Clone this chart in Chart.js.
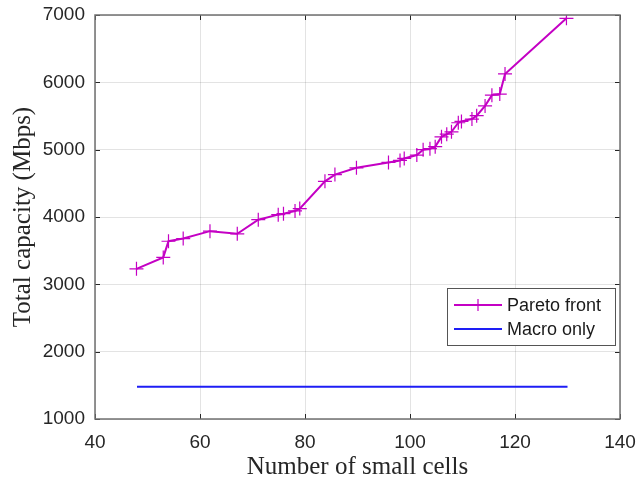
<!DOCTYPE html>
<html>
<head>
<meta charset="utf-8">
<script src="https://cdn.jsdelivr.net/npm/chart.js@4"></script>
<style>
  html, body { margin: 0; padding: 0; background: #fff; }
  #wrap { width: 638px; height: 484px; }
</style>
</head>
<body>
<div id="wrap"><canvas id="main-chart" width="638" height="484"></canvas></div>
<script>
// values
let smallCells = [47.9, 53, 54, 56.8, 61.9, 67.1, 71.1, 74.9, 75.9, 78.1, 79, 83.8, 85.7, 89.8, 95.9, 98.1, 98.9, 101.3, 102.5, 103.8, 104.8, 106, 107, 107.9, 109.2, 109.8, 111.8, 112.7, 114.3, 115.6, 117.1, 118.1, 129.8]
let paretoCap = [3230, 3400, 3640, 3680, 3790, 3750, 3960, 4035, 4050, 4090, 4125, 4530, 4630, 4730, 4810, 4840, 4870, 4920, 5000, 5015, 5045, 5190, 5230, 5265, 5400, 5420, 5455, 5505, 5650, 5810, 5825, 6125, 6950]
let macroX = [48, 130]
let macroCap = [1480, 1480]
let xTicks = [40, 60, 80, 100, 120, 140]
let yTicks = [1000, 2000, 3000, 4000, 5000, 6000, 7000]

let pareto = smallCells.map((x, i) => ({ x: x, y: paretoCap[i] }))
let macro = macroX.map((x, i) => ({ x: x, y: macroCap[i] }))

const magenta = 'rgb(196,0,196)'
const blue = 'rgb(30,30,245)'
const tickFont = { family: 'Liberation Sans, Arial, sans-serif', size: 19 }
const titleFont = { family: 'Liberation Serif, Times New Roman, serif', size: 25 }

// box, inward ticks and legend like the matlab figure
const frame = {
  id: 'frame',
  afterDraw(chart) {
    let ctx = chart.ctx
    let a = chart.chartArea
    let xs = chart.scales.x, ys = chart.scales.y
    ctx.save()
    ctx.strokeStyle = '#262626'
    ctx.lineWidth = 1
    xTicks.forEach(t => {
      let px = Math.round(xs.getPixelForValue(t)) + 0.5
      ctx.beginPath()
      ctx.moveTo(px, a.bottom); ctx.lineTo(px, a.bottom - 5)
      ctx.moveTo(px, a.top); ctx.lineTo(px, a.top + 5)
      ctx.stroke()
    })
    yTicks.forEach(t => {
      let py = Math.round(ys.getPixelForValue(t)) + 0.5
      ctx.beginPath()
      ctx.moveTo(a.left, py); ctx.lineTo(a.left + 5, py)
      ctx.moveTo(a.right, py); ctx.lineTo(a.right - 5, py)
      ctx.stroke()
    })
    ctx.strokeStyle = '#707070'
    ctx.lineWidth = 1.5
    ctx.strokeRect(Math.round(a.left), Math.round(a.top), Math.round(a.right - a.left), Math.round(a.bottom - a.top))

    // legend
    let lx = 447, ly = 288, lw = 168, lh = 57
    ctx.fillStyle = '#fff'
    ctx.fillRect(lx, ly, lw, lh)
    ctx.strokeStyle = '#555'
    ctx.lineWidth = 1
    ctx.strokeRect(lx + 0.5, ly + 0.5, lw, lh)
    let items = [
      { label: 'Pareto front', color: magenta, marker: true },
      { label: 'Macro only', color: blue, marker: false }
    ]
    ctx.font = '18px Liberation Sans, Arial, sans-serif'
    ctx.textBaseline = 'middle'
    items.forEach((it, i) => {
      let cy = ly + 17 + i * 24
      ctx.strokeStyle = it.color
      ctx.lineWidth = 2
      ctx.beginPath()
      ctx.moveTo(lx + 7, cy); ctx.lineTo(lx + 55, cy)
      ctx.stroke()
      if (it.marker) {
        ctx.beginPath()
        ctx.moveTo(lx + 31, cy - 6); ctx.lineTo(lx + 31, cy + 6)
        ctx.moveTo(lx + 25, cy); ctx.lineTo(lx + 37, cy)
        ctx.lineWidth = 1.2
        ctx.stroke()
      }
      ctx.fillStyle = '#1a1a1a'
      ctx.fillText(it.label, lx + 60, cy + 1)
    })
    ctx.restore()
  }
}

new Chart(document.getElementById('main-chart'), {
  type: 'scatter',
  data: {
    datasets: [
      {
        label: 'Pareto front',
        data: pareto,
        showLine: true,
        borderColor: magenta,
        backgroundColor: magenta,
        borderWidth: 2,
        pointStyle: 'cross',
        pointRadius: 7,
        pointBorderWidth: 1.2,
        pointHoverRadius: 7
      },
      {
        label: 'Macro only',
        data: macro,
        showLine: true,
        borderColor: blue,
        backgroundColor: blue,
        borderWidth: 2,
        pointRadius: 0
      }
    ]
  },
  options: {
    responsive: false,
    animation: false,
    devicePixelRatio: 1,
    layout: { padding: { top: 15, right: 18, left: 0, bottom: 0 } },
    plugins: {
      legend: { display: false },
      tooltip: { enabled: false }
    },
    scales: {
      x: {
        type: 'linear',
        min: 40,
        max: 140,
        afterBuildTicks: s => { s.ticks = xTicks.map(v => ({ value: v })) },
        afterFit: s => { s.height = 65; s.paddingLeft = 0; s.paddingRight = 0 },
        grid: { color: 'rgba(0,0,0,0.11)', drawTicks: false },
        border: { display: false },
        ticks: { color: '#262626', font: tickFont, padding: 12, maxRotation: 0, callback: v => String(v) },
        title: { display: true, text: 'Number of small cells', color: '#262626', font: titleFont, padding: { top: 0, bottom: 2 } }
      },
      y: {
        type: 'linear',
        min: 1000,
        max: 7000,
        afterBuildTicks: s => { s.ticks = yTicks.map(v => ({ value: v })) },
        afterFit: s => { s.width = 95; s.paddingTop = 0; s.paddingBottom = 0 },
        grid: { color: 'rgba(0,0,0,0.11)', drawTicks: false },
        border: { display: false },
        ticks: { color: '#262626', font: tickFont, padding: 10, callback: v => String(v) },
        title: { display: true, text: 'Total capacity (Mbps)', color: '#262626', font: titleFont, padding: { top: 8, bottom: 0 } }
      }
    }
  },
  plugins: [frame]
})
</script>
</body>
</html>
